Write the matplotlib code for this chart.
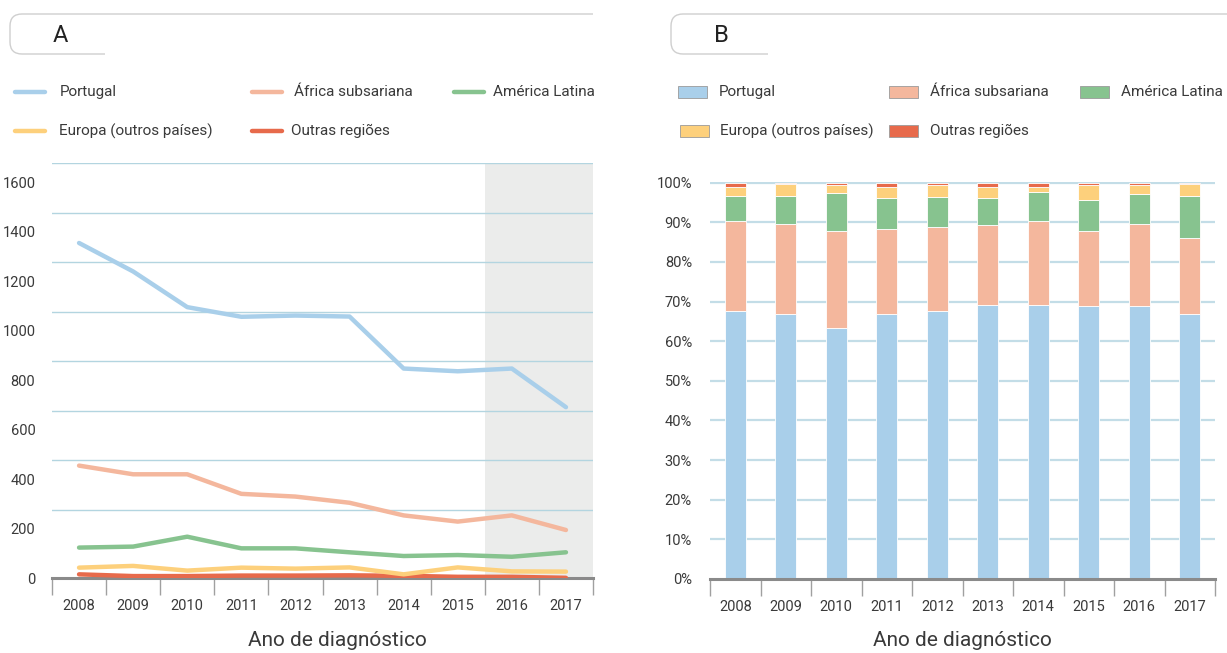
import matplotlib
matplotlib.use("Agg")
import matplotlib.pyplot as plt
import matplotlib.transforms as mtransforms
from matplotlib.path import Path
from matplotlib.patches import PathPatch, Rectangle
from matplotlib.lines import Line2D
import numpy as np

plt.rcParams['font.family'] = ['Roboto', 'DejaVu Sans']

years = ['2008', '2009', '2010', '2011', '2012', '2013', '2014', '2015', '2016', '2017']
series_names = ['Portugal', 'África subsariana', 'América Latina', 'Europa (outros países)', 'Outras regiões']

# Panel A: number of cases
portugal = [1354, 1239, 1095, 1056, 1061, 1057, 847, 836, 847, 691]
africa = [455, 420, 420, 341, 330, 305, 254, 229, 254, 195]
america = [124, 128, 168, 121, 121, 105, 90, 94, 87, 105]
europa = [43, 50, 31, 43, 39, 44, 16, 44, 28, 27]
outras = [16, 9, 9, 11, 11, 12, 10, 6, 6, 2]

# Panel B: percentages
pt_pct = [67.6, 66.9, 63.3, 66.9, 67.6, 69.2, 69.2, 68.8, 68.8, 66.9]
af_pct = [22.7, 22.7, 24.5, 21.4, 21.1, 20.2, 21.1, 19.0, 20.8, 19.2]
al_pct = [6.4, 7.1, 9.6, 7.8, 7.8, 6.7, 7.4, 7.9, 7.5, 10.6]
eu_pct = [2.3, 3.0, 2.0, 2.9, 2.9, 2.9, 1.3, 3.7, 2.3, 3.0]
ou_pct = [1.0, 0.3, 0.6, 1.0, 0.6, 1.0, 1.0, 0.6, 0.6, 0.3]

a_ticks = [0, 200, 400, 600, 800, 1000, 1200, 1400, 1600]
a_grid = [277, 477, 677, 877, 1077, 1277, 1477, 1677]
b_ticks = list(range(0, 101, 10))

colors = ['#a9cfea', '#f4b79d', '#87c38f', '#fdd07c', '#e76a4b']
grid_col = '#b3d5e0'
txt_col = '#3a3a3a'

W, H = 1227, 653
fig = plt.figure(figsize=(W / 100, H / 100), dpi=100)
fig.patch.set_facecolor('white')
pix = mtransforms.Affine2D().scale(1 / W, -1 / H).translate(0, 1) + fig.transFigure

x = np.arange(len(years))


def style_xaxis(ax, label_x=0.5):
    ax.set_xlim(-0.5, len(years) - 0.5)
    ax.set_xticks(x)
    ax.set_xticklabels(years)
    ax.set_xticks(np.arange(-0.5, len(years), 1.0), minor=True)
    ax.tick_params(axis='x', which='major', length=0, pad=15, labelsize=10.5, labelcolor=txt_col)
    ax.tick_params(axis='x', which='minor', length=12, width=1, color='#a0a0a0', direction='out')
    for s in ['top', 'right', 'left']:
        ax.spines[s].set_visible(False)
    ax.spines['bottom'].set_color('#8a8a8a')
    ax.spines['bottom'].set_linewidth(2.2)
    ax.set_xlabel('Ano de diagnóstico', fontsize=15, color=txt_col, labelpad=14)
    ax.xaxis.set_label_coords(label_x, -0.125 if ax is not None else 0)


# ---- Panel A ----
axA = fig.add_axes([52 / W, (H - 578.3) / H, 541 / W, 415.3 / H])
axA.set_ylim(0, 1677)
axA.axvspan(7.5, 9.5, color='#ebeceb', zorder=0, lw=0)
for g in a_grid:
    axA.axhline(g, color=grid_col, lw=1.0, zorder=1)
vals = [portugal, africa, america, europa, outras]
for v, c in zip(vals[::-1], colors[::-1]):
    axA.plot(x, v, color=c, lw=3.2, solid_capstyle='round', zorder=3)
axA.set_yticks(a_ticks)
axA.set_yticklabels([str(t) for t in a_ticks])
axA.tick_params(axis='y', length=0, pad=12, labelsize=10.5, labelcolor=txt_col)
style_xaxis(axA)
axA.xaxis.set_label_coords(0.527, -(641 - 578.3) / 415.3)
axA.xaxis.label.set_va('center')

# ---- Panel B ----
axB = fig.add_axes([710 / W, (H - 579) / H, 505 / W, 397.5 / H])
axB.set_ylim(0, 100.3)
for g in b_ticks[1:]:
    axB.axhline(g, color='#c3dde7', lw=1.6, zorder=1)
bottom = np.zeros(len(years))
for v, c in zip([pt_pct, af_pct, al_pct, eu_pct, ou_pct], colors):
    axB.bar(x, v, width=0.42, bottom=bottom, color=c, edgecolor='white', linewidth=0.6, zorder=2)
    bottom += np.array(v)
axB.set_yticks(b_ticks)
axB.set_yticklabels([f'{t}%' for t in b_ticks])
axB.tick_params(axis='y', length=0, pad=13, labelsize=10.5, labelcolor=txt_col)
style_xaxis(axB)
axB.xaxis.set_label_coords(0.5, -(641 - 579) / 397.5)
axB.xaxis.label.set_va('center')


# ---- Title boxes ----
def title_box(x0, x_top_end, x_bot_end, y0, y1, r=12):
    verts = [(x_top_end, y0), (x0 + r, y0), (x0, y0), (x0, y0 + r),
             (x0, y1 - r), (x0, y1), (x0 + r, y1), (x_bot_end, y1)]
    codes = [Path.MOVETO, Path.LINETO, Path.CURVE3, Path.CURVE3,
             Path.LINETO, Path.CURVE3, Path.CURVE3, Path.LINETO]
    p = PathPatch(Path(verts, codes), transform=pix, facecolor='none',
                  edgecolor='#cfcfcf', lw=1.0)
    fig.add_artist(p)


title_box(10, 593, 105, 14, 54)
fig.text(60 / W, 1 - 35 / H, 'A', fontsize=17, color='#222222', ha='center', va='center')
title_box(671, 1227, 768, 14, 54)
fig.text(721 / W, 1 - 35 / H, 'B', fontsize=17, color='#222222', ha='center', va='center')

# ---- Legend A (lines) ----
legA = [(15, 92, 60), (252, 92, 294), (454, 92, 493), (15, 131, 59), (252, 131, 291)]
for (hx, hy, tx), name, c in zip(legA, series_names, colors):
    fig.add_artist(Line2D([hx, hx + 30], [hy, hy], transform=pix, color=c, lw=3.2,
                          solid_capstyle='round'))
    fig.text(tx / W, 1 - hy / H, name, fontsize=11, color=txt_col, ha='left', va='center')

# ---- Legend B (patches) ----
legB = [(678, 92, 719), (889, 92, 930), (1080, 92, 1121), (680, 131, 720), (889, 131, 930)]
for (hx, hy, tx), name, c in zip(legB, series_names, colors):
    fig.add_artist(Rectangle((hx, hy - 6), 29, 12, transform=pix, facecolor=c,
                             edgecolor='#9a9a9a', lw=0.6))
    fig.text(tx / W, 1 - hy / H, name, fontsize=11, color=txt_col, ha='left', va='center')

fig.savefig('out.png', dpi=100, facecolor='white')
